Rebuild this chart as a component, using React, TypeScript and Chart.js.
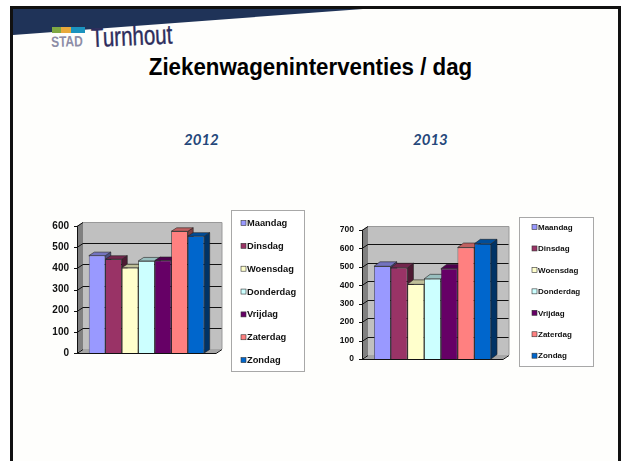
import React, { useEffect, useRef } from "react";
import { Chart, registerables } from "chart.js";

Chart.register(...registerables);

const days = ["Maandag", "Dinsdag", "Woensdag", "Donderdag", "Vrijdag", "Zaterdag", "Zondag"];
const values2012 = [460, 443, 403, 435, 437, 575, 552];
const values2013 = [503, 495, 405, 435, 490, 605, 625];
const frontColors = ["#9999FF", "#993366", "#FFFFCC", "#CCFFFF", "#660066", "#FF8080", "#0066CC"];
const sideColors = ["#4D4D80", "#4D1A33", "#808066", "#668080", "#330033", "#804040", "#003366"];
const topColors = ["#7373BF", "#73264D", "#BFBF99", "#99BFBF", "#4D004D", "#BF6060", "#004D99"];

const FONT = "'Liberation Sans', Arial, sans-serif";

type Look = {
  wallDx: number;
  wallDy: number;
  barDx: number;
  barDy: number;
  box: number[];
  swatchX: number;
  textX: number;
  firstRow: number;
  rowGap: number;
  legendFont: number;
};

const look3d = {
  id: "look3d",
  beforeDatasetsDraw(chart: any, _a: any, o: Look) {
    const { ctx, chartArea: c, scales } = chart;
    const y = scales.y;
    const { wallDx: dx, wallDy: dy } = o;
    ctx.save();
    // back wall
    ctx.fillStyle = "#C0C0C0";
    ctx.fillRect(c.left + dx, c.top + dy, c.width, c.height);
    // side wall
    ctx.fillStyle = "#808080";
    ctx.beginPath();
    ctx.moveTo(c.left, c.top);
    ctx.lineTo(c.left + dx, c.top + dy);
    ctx.lineTo(c.left + dx, c.bottom + dy);
    ctx.lineTo(c.left, c.bottom);
    ctx.fill();
    // floor
    ctx.fillStyle = "#A6A6A6";
    ctx.beginPath();
    ctx.moveTo(c.left, c.bottom);
    ctx.lineTo(c.left + dx, c.bottom + dy);
    ctx.lineTo(c.right + dx, c.bottom + dy);
    ctx.lineTo(c.right, c.bottom);
    ctx.fill();
    // gridlines and tick marks
    ctx.strokeStyle = "#111";
    ctx.lineWidth = 1;
    y.ticks.forEach((t: any) => {
      const py = Math.round(y.getPixelForValue(t.value)) + 0.5;
      ctx.beginPath();
      ctx.moveTo(c.left - 3, py);
      ctx.lineTo(c.left, py);
      ctx.lineTo(c.left + dx, py + dy);
      if (t.value !== 0) ctx.lineTo(c.right + dx, py + dy);
      ctx.stroke();
    });
    // axes
    ctx.beginPath();
    ctx.moveTo(c.left + 0.5, c.top);
    ctx.lineTo(c.left + 0.5, c.bottom);
    ctx.moveTo(c.left, c.bottom + 0.5);
    ctx.lineTo(c.right, c.bottom + 0.5);
    ctx.lineTo(c.right + dx, c.bottom + dy + 0.5);
    ctx.stroke();
    ctx.strokeStyle = "#999";
    ctx.beginPath();
    ctx.moveTo(c.left + dx, c.top + dy + 0.5);
    ctx.lineTo(c.right + dx, c.top + dy + 0.5);
    ctx.lineTo(c.right + dx, c.bottom + dy);
    ctx.stroke();

    // bar side and top faces, left to right; the library paints the fronts afterwards
    const bdx = o.barDx;
    const bdy = o.barDy;
    ctx.strokeStyle = "#222";
    ctx.lineWidth = 0.6;
    chart.data.datasets.forEach((_d: any, i: number) => {
      const bar = chart.getDatasetMeta(i).data[0];
      const { x, y: top, base, width } = bar.getProps(["x", "y", "base", "width"], true);
      const l = x - width / 2;
      const r = x + width / 2;
      ctx.fillStyle = sideColors[i];
      ctx.beginPath();
      ctx.moveTo(r, top);
      ctx.lineTo(r + bdx, top + bdy);
      ctx.lineTo(r + bdx, base + bdy);
      ctx.lineTo(r, base);
      ctx.closePath();
      ctx.fill();
      ctx.stroke();
      ctx.fillStyle = topColors[i];
      ctx.beginPath();
      ctx.moveTo(l, top);
      ctx.lineTo(l + bdx, top + bdy);
      ctx.lineTo(r + bdx, top + bdy);
      ctx.lineTo(r, top);
      ctx.closePath();
      ctx.fill();
      ctx.stroke();
    });
    ctx.restore();
  },
  afterDraw(chart: any, _a: any, o: Look) {
    const { ctx } = chart;
    const [bx, by, bw, bh] = o.box;
    ctx.save();
    ctx.fillStyle = "#FFFFFF";
    ctx.strokeStyle = "#A8A8A8";
    ctx.lineWidth = 1;
    ctx.fillRect(bx, by, bw, bh);
    ctx.strokeRect(bx + 0.5, by + 0.5, bw, bh);
    ctx.font = `bold ${o.legendFont}px ${FONT}`;
    ctx.textBaseline = "middle";
    chart.data.datasets.forEach((d: any, i: number) => {
      const ry = o.firstRow + i * o.rowGap;
      ctx.fillStyle = d.backgroundColor;
      ctx.fillRect(o.swatchX, ry - 2.5, 5, 5);
      ctx.strokeStyle = "#333";
      ctx.lineWidth = 0.6;
      ctx.strokeRect(o.swatchX, ry - 2.5, 5, 5);
      ctx.fillStyle = "#111";
      ctx.fillText(d.label, o.textX, ry + 0.5);
    });
    ctx.restore();
  },
};

function makeChart(
  canvas: HTMLCanvasElement,
  year: string,
  values: number[],
  yMax: number,
  axisWidth: number,
  padding: any,
  tickFont: number,
  look: Look
) {
  return new Chart(canvas, {
    type: "bar",
    data: {
      labels: [year],
      datasets: days.map((d, i) => ({
        label: d,
        data: [values[i]],
        backgroundColor: frontColors[i],
        borderColor: "#222",
        borderWidth: 0.7,
        barPercentage: 1,
        categoryPercentage: 0.83,
      })),
    },
    plugins: [look3d],
    options: {
      animation: false,
      responsive: false,
      layout: { padding },
      plugins: {
        legend: { display: false },
        tooltip: { enabled: false },
        look3d: look,
      } as any,
      scales: {
        x: { display: false, offset: true },
        y: {
          min: 0,
          max: yMax,
          afterFit: (s: any) => {
            s.width = axisWidth;
          },
          grid: { display: false, drawTicks: false },
          border: { display: false },
          ticks: {
            stepSize: 100,
            padding: 8,
            color: "#111",
            font: { family: FONT, size: tickFont, weight: "bold" },
          },
        },
      },
    },
  } as any);
}

const abs = (s: React.CSSProperties): React.CSSProperties => ({ position: "absolute", ...s });

export default function App() {
  const a = useRef<HTMLCanvasElement>(null);
  const b = useRef<HTMLCanvasElement>(null);
  useEffect(() => {
    const c1 = makeChart(a.current!, "2012", values2012, 600, 37, { left: 0, right: 94, top: 26, bottom: 27 }, 10, {
      wallDx: 6,
      wallDy: -4,
      barDx: 5.5,
      barDy: -3.5,
      box: [191, 10, 73, 161],
      swatchX: 201,
      textX: 207,
      firstRow: 23,
      rowGap: 22.85,
      legendFont: 9.3,
    });
    const c2 = makeChart(b.current!, "2013", values2013, 700, 32, { left: 0, right: 107, top: 25, bottom: 21 }, 8.5, {
      wallDx: 6,
      wallDy: -4,
      barDx: 6,
      barDy: -4.5,
      box: [189, 12, 74, 149],
      swatchX: 202,
      textX: 208,
      firstRow: 22,
      rowGap: 21.45,
      legendFont: 8,
    });
    return () => {
      c1.destroy();
      c2.destroy();
    };
  }, []);

  return (
    <div style={abs({ left: 0, top: 0, width: 621, height: 461, background: "#FFFFFF", overflow: "hidden", filter: "blur(0.35px)" })}>
      <div style={abs({ left: 10, top: 6, width: 605, height: 470, background: "#FEFEFC", border: "3px solid #111" })} />
      <div style={abs({ left: 13, top: 9, width: 350, height: 26, background: "#1F3358", clipPath: "polygon(0 0, 100% 0, 0 100%)" })} />
      <div style={abs({ left: 52, top: 27, width: 9, height: 6, background: "#7FA843" })} />
      <div style={abs({ left: 61, top: 27, width: 10, height: 6, background: "#E8A93A" })} />
      <div style={abs({ left: 71, top: 27, width: 14, height: 6, background: "#1B93BE" })} />
      <div style={abs({ left: 51, top: 33, fontFamily: FONT, fontWeight: 700, fontSize: 15, lineHeight: "18px", color: "#8D8DA6", transform: "rotate(-1.5deg) scaleX(0.8)", transformOrigin: "left center" })}>STAD</div>
      <div style={abs({ left: 91, top: 23, fontFamily: FONT, fontSize: 27, lineHeight: "30px", color: "#2D2D5C", WebkitTextStroke: "0.4px #2D2D5C", transform: "rotate(-2.5deg) scaleX(0.76)", transformOrigin: "left center" })}>Turnhout</div>
      <div style={abs({ left: 0, width: 621, top: 53, textAlign: "center", fontFamily: FONT, fontWeight: 700, fontSize: 22.3, lineHeight: "28px", color: "#000", whiteSpace: "nowrap", transform: "scaleY(1.1)" })}>Ziekenwageninterventies / dag</div>
      <div style={abs({ left: 184, top: 129, fontFamily: "Lato, sans-serif", fontStyle: "italic", fontWeight: 700, fontSize: 15, lineHeight: "20px", color: "#24477A" })}>2012</div>
      <div style={abs({ left: 413, top: 129, fontFamily: "Lato, sans-serif", fontStyle: "italic", fontWeight: 700, fontSize: 15, lineHeight: "20px", color: "#24477A" })}>2013</div>
      <canvas ref={a} width={270} height={180} style={abs({ left: 40, top: 200, width: 270, height: 180 })} />
      <canvas ref={b} width={280} height={175} style={abs({ left: 330, top: 205, width: 280, height: 175 })} />
    </div>
  );
}
